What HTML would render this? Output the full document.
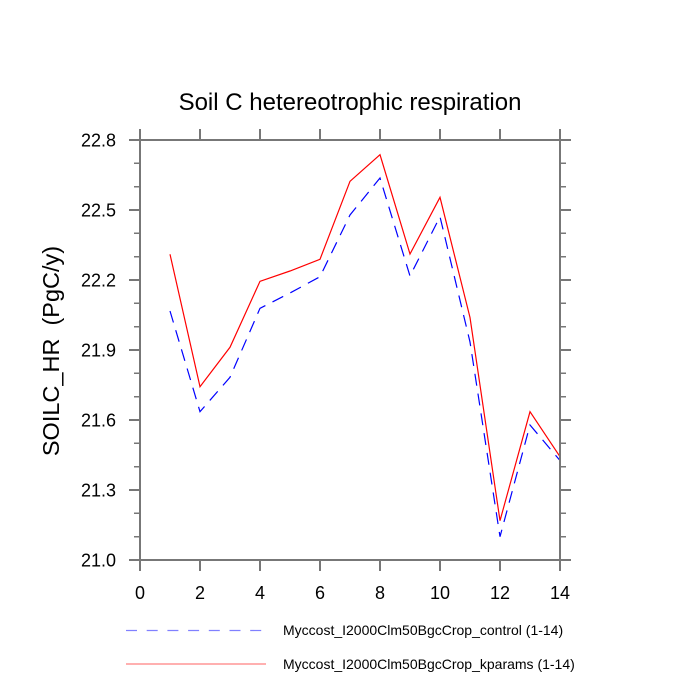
<!DOCTYPE html>
<html>
<head>
<meta charset="utf-8">
<style>
html,body{margin:0;padding:0;background:#fff;}
svg{display:block;}
text{font-family:"Liberation Sans",Arial,sans-serif;fill:#000;}
</style>
</head>
<body>
<svg width="700" height="700" viewBox="0 0 700 700" xmlns="http://www.w3.org/2000/svg">
<rect width="700" height="700" fill="#fff"/>
<!-- title -->
<text x="350" y="110" font-size="24" text-anchor="middle">Soil C hetereotrophic respiration</text>

<!-- series -->
<polyline fill="none" stroke="#0000ff" stroke-width="1.2" stroke-dasharray="12 8"
 points="170,311 200,411.7 230,377.3 260,308.3 290,293 320,276.7 350,215 380,178 410,276 440,216.7 470,342 500,536.7 530,425 560,460.5"/>
<polyline fill="none" stroke="#ff0000" stroke-width="1.2"
 points="170,254.3 200,386.7 230,347.3 260,281.3 290,271 320,259.3 350,181.3 380,154.7 410,254 440,197.3 470,317.5 500,520.7 530,411.7 560,456.7"/>

<!-- axes box -->
<g stroke="#777" stroke-width="2" fill="none">
<rect x="140" y="140" width="420" height="420"/>
<path d="M140,560V571 M200,560V571 M260,560V571 M320,560V571 M380,560V571 M440,560V571 M500,560V571 M560,560V571
M140,140V129 M200,140V129 M260,140V129 M320,140V129 M380,140V129 M440,140V129 M500,140V129 M560,140V129"/>
<path d="M140,140H129 M140,210H129 M140,280H129 M140,350H129 M140,420H129 M140,490H129 M140,560H129
M560,140H571 M560,210H571 M560,280H571 M560,350H571 M560,420H571 M560,490H571 M560,560H571"/>
</g>
<g stroke="#777" stroke-width="1.5" fill="none">
<path d="M140,163.3H134 M140,186.7H134 M140,233.3H134 M140,256.7H134 M140,303.3H134 M140,326.7H134 M140,373.3H134 M140,396.7H134 M140,443.3H134 M140,466.7H134 M140,513.3H134 M140,536.7H134
M560,163.3H566 M560,186.7H566 M560,233.3H566 M560,256.7H566 M560,303.3H566 M560,326.7H566 M560,373.3H566 M560,396.7H566 M560,443.3H566 M560,466.7H566 M560,513.3H566 M560,536.7H566"/>
</g>

<!-- y tick labels -->
<g font-size="18" text-anchor="end">
<text x="116" y="146.5">22.8</text>
<text x="116" y="216.5">22.5</text>
<text x="116" y="286.5">22.2</text>
<text x="116" y="356.5">21.9</text>
<text x="116" y="426.5">21.6</text>
<text x="116" y="496.5">21.3</text>
<text x="116" y="566.5">21.0</text>
</g>
<!-- x tick labels -->
<g font-size="18" text-anchor="middle">
<text x="140" y="599">0</text>
<text x="200" y="599">2</text>
<text x="260" y="599">4</text>
<text x="320" y="599">6</text>
<text x="380" y="599">8</text>
<text x="440" y="599">10</text>
<text x="500" y="599">12</text>
<text x="560" y="599">14</text>
</g>

<!-- y axis label -->
<text transform="translate(59,351) rotate(-90)" font-size="23.5" text-anchor="middle" xml:space="preserve">SOILC_HR  (PgC/y)</text>

<!-- legend -->
<line x1="126" y1="630.5" x2="264" y2="630.5" stroke="#8080ff" stroke-width="1.2" stroke-dasharray="11 9.7"/>
<line x1="126" y1="664" x2="266" y2="664" stroke="#ff8080" stroke-width="1.2"/>
<g font-size="14">
<text x="283" y="635">Myccost_I2000Clm50BgcCrop_control (1-14)</text>
<text x="283" y="669">Myccost_I2000Clm50BgcCrop_kparams (1-14)</text>
</g>
</svg>
</body>
</html>
